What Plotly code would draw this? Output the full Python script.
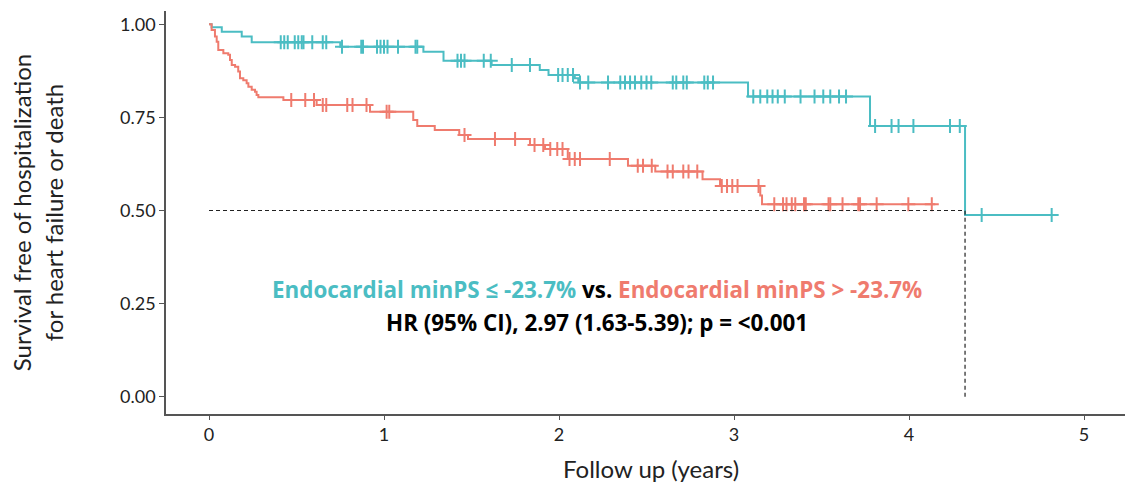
import numpy as np
import plotly.graph_objects as go

# ---- data ----
teal_times = [0, 0.015, 0.073, 0.187, 0.244, 0.75, 1.225, 1.34, 1.615, 1.89, 1.94,
              2.09, 2.11, 3.08, 3.777, 4.32, 4.82]
teal_surv = [1.0, 0.992, 0.980, 0.967, 0.952, 0.940, 0.926, 0.902, 0.891, 0.877, 0.864,
             0.855, 0.844, 0.806, 0.727, 0.488, 0.488]
teal_censor = [0.41, 0.43, 0.45, 0.49, 0.51, 0.53, 0.54, 0.59, 0.65, 0.67, 0.76, 0.87, 0.88,
               0.96, 0.98, 1.0, 1.02, 1.08, 1.18, 1.19, 1.42, 1.44, 1.46, 1.57, 1.61, 1.73,
               1.834, 1.995, 2.02, 2.05, 2.08, 2.12, 2.167, 2.28, 2.35, 2.377, 2.406, 2.434,
               2.47, 2.50, 2.527, 2.65, 2.67, 2.71, 2.73, 2.83, 2.85, 2.88, 3.11, 3.15, 3.19,
               3.22, 3.25, 3.29, 3.38, 3.46, 3.51, 3.55, 3.60, 3.64, 3.806, 3.90, 3.94, 4.025,
               4.234, 4.29, 4.415, 4.815]

red_times = [0, 0.015, 0.034, 0.044, 0.053, 0.082, 0.11, 0.12, 0.13, 0.149, 0.167, 0.177,
             0.196, 0.215, 0.225, 0.244, 0.263, 0.272, 0.282, 0.425, 0.615, 0.92, 1.167,
             1.19, 1.29, 1.43, 1.48, 1.834, 1.92, 2.05, 2.394, 2.55, 2.82, 2.92, 3.15, 3.16,
             4.15]
red_surv = [1.0, 0.985, 0.967, 0.953, 0.931, 0.922, 0.918, 0.904, 0.891, 0.886, 0.873, 0.855,
            0.850, 0.842, 0.832, 0.824, 0.819, 0.810, 0.804, 0.797, 0.783, 0.765, 0.743,
            0.727, 0.716, 0.703, 0.692, 0.676, 0.665, 0.638, 0.620, 0.605, 0.584, 0.566,
            0.540, 0.517, 0.517]
red_censor = [0.47, 0.55, 0.60, 0.65, 0.67, 0.79, 0.82, 0.90, 1.015, 1.03, 1.46, 1.634, 1.749,
              1.86, 1.91, 1.95, 1.99, 2.02, 2.06, 2.09, 2.12, 2.29, 2.45, 2.48, 2.53, 2.62,
              2.65, 2.71, 2.74, 2.79, 2.93, 2.96, 2.99, 3.02, 3.14, 3.23, 3.28, 3.30, 3.33,
              3.35, 3.40, 3.41, 3.54, 3.55, 3.62, 3.71, 3.72, 3.815, 3.996, 4.13]

x_ticks = [0, 1, 2, 3, 4, 5]
y_ticks = [0.0, 0.25, 0.5, 0.75, 1.0]
y_tick_labels = ["0.00", "0.25", "0.50", "0.75", "1.00"]

TEAL = "#4BBDC3"
RED = "#EF7B6E"
FONT = "Lato"
BFONT = "Open Sans"


def surv_at(times, surv, t):
    idx = np.searchsorted(np.array(times), np.array(t), side="right") - 1
    return list(np.array(surv)[idx])


fig = go.Figure()
for times, surv, cens, col in [(teal_times, teal_surv, teal_censor, TEAL),
                               (red_times, red_surv, red_censor, RED)]:
    fig.add_trace(go.Scatter(x=times, y=surv, mode="lines", line=dict(color=col, width=2, shape="hv"),
                             showlegend=False, hoverinfo="skip"))
    fig.add_trace(go.Scatter(x=cens, y=surv_at(times, surv, cens), mode="markers",
                             marker=dict(symbol="cross-thin", size=10, line=dict(color=col, width=2)),
                             showlegend=False, hoverinfo="skip"))

# median survival of the teal group
ts = np.array(teal_times); ss = np.array(teal_surv)
median_t = float(ts[np.argmax(ss <= 0.5)])
dash = dict(color="#222", width=1.2, dash="4px,3px")
fig.add_shape(type="line", x0=0, x1=median_t, y0=0.5, y1=0.5, line=dash)
fig.add_shape(type="line", x0=median_t, x1=median_t, y0=0, y1=0.5, line=dash)

fig.add_annotation(x=2.217, y=0.287, xref="x", yref="y", showarrow=False,
                   xanchor="center", yanchor="middle",
                   text=(f"<b><span style='color:{TEAL}'>Endocardial minPS ≤ -23.7%</span> vs. "
                         f"<span style='color:{RED}'>Endocardial minPS > -23.7%</span></b>"),
                   font=dict(family=BFONT, size=22.4, color="black"))
fig.add_annotation(x=2.217, y=0.200, xref="x", yref="y", showarrow=False,
                   xanchor="center", yanchor="middle",
                   text="<b>HR (95% CI), 2.97 (1.63-5.39); p = <0.001</b>",
                   font=dict(family=BFONT, size=22.4, color="black"))

fig.add_annotation(x=0.5057, y=-0.134, xref="paper", yref="paper", showarrow=False,
                   xanchor="center", yanchor="middle",
                   text="Follow up (years)", font=dict(family=FONT, size=24, color="#222"))

fig.update_layout(
    width=1125, height=487,
    margin=dict(l=166, r=0, t=11, b=73),
    plot_bgcolor="white", paper_bgcolor="white",
    font=dict(family=FONT, size=18, color="#222"),
)
fig.update_xaxes(range=[-0.2457, 5.234], tickvals=x_ticks, showgrid=False, zeroline=False,
                 showline=True, linecolor="#555", linewidth=1.5, ticks="outside", ticklen=4,
                 tickcolor="#555", tickfont=dict(size=18))
fig.update_yaxes(range=[-0.0465, 1.0357], tickvals=y_ticks, ticktext=y_tick_labels, showgrid=False,
                 zeroline=False, showline=True, linecolor="#555", linewidth=1.5, ticks="outside",
                 ticklen=5, tickcolor="#555", tickfont=dict(size=18),
                 title=dict(text="Survival free of hospitalization<br>for heart failure or death",
                            font=dict(family=FONT, size=24, color="#222"), standoff=50))

fig.write_html("out.html", config={"displayModeBar": False},
               post_script="document.body.style.margin='0px';")
